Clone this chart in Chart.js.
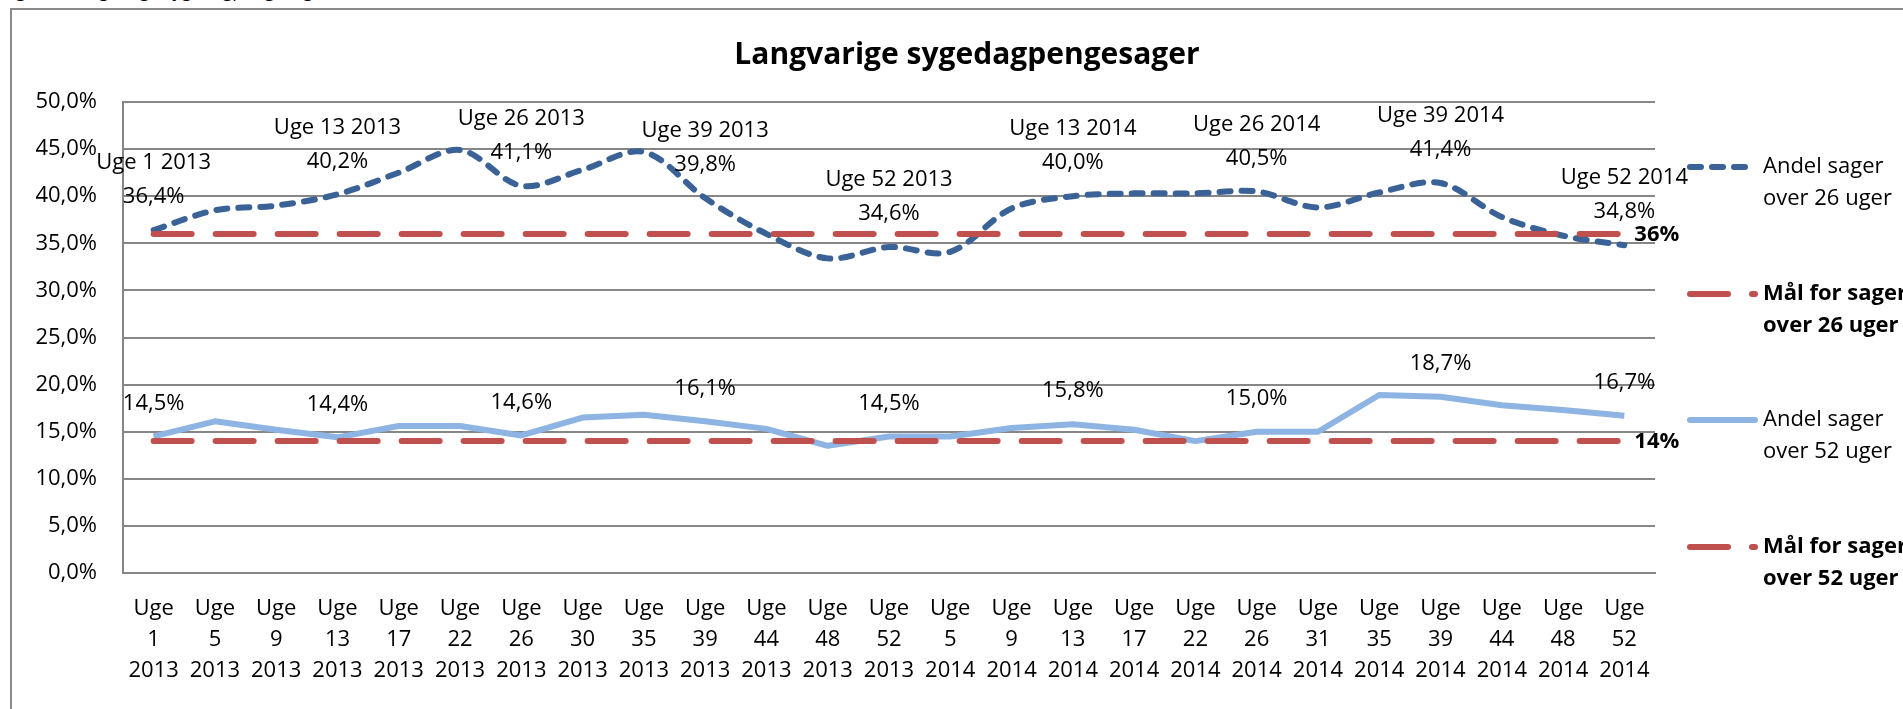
<!DOCTYPE html>
<html>
<head>
<meta charset="utf-8">
<script src="https://cdn.jsdelivr.net/npm/chart.js@4.4.1/dist/chart.umd.min.js"></script>
<style>
  html, body { margin: 0; padding: 0; overflow: hidden; background: #fff; }
  #wrap { position: relative; width: 1903px; height: 709px; overflow: hidden; }
  #caption { position: absolute; left: 2px; top: -19px; font: 18px 'Open Sans', sans-serif; line-height: 1; white-space: nowrap; color: #000; }
  #frame { position: absolute; left: 10px; top: 8px; width: 1940px; height: 740px; border: 2px solid #8a8a8a; box-sizing: border-box; }
  canvas { position: absolute; left: 0; top: 0; }
</style>
</head>
<body>
<div id="wrap">
  <div id="caption">Figur 4: Langvarige sygedagpengesager</div>
  <div id="frame"></div>
  <canvas id="chart" width="1903" height="709"></canvas>
</div>
<script>
const weeks = [1, 5, 9, 13, 17, 22, 26, 30, 35, 39, 44, 48, 52, 5, 9, 13, 17, 22, 26, 31, 35, 39, 44, 48, 52];
const years = [2013, 2013, 2013, 2013, 2013, 2013, 2013, 2013, 2013, 2013, 2013, 2013, 2013,
               2014, 2014, 2014, 2014, 2014, 2014, 2014, 2014, 2014, 2014, 2014, 2014];

const over26 = [36.4, 38.5, 39.0, 40.2, 42.5, 44.9, 41.1, 42.8, 44.7, 39.8, 36.0, 33.4, 34.6,
                34.1, 38.7, 40.0, 40.3, 40.3, 40.5, 38.8, 40.4, 41.4, 37.8, 35.8, 34.8];
const over52 = [14.5, 16.1, 15.2, 14.4, 15.6, 15.6, 14.6, 16.5, 16.8, 16.1, 15.3, 13.5, 14.5,
                14.5, 15.4, 15.8, 15.2, 14.0, 15.0, 15.0, 18.9, 18.7, 17.8, 17.3, 16.7];
const goal26 = [36, 36, 36, 36, 36, 36, 36, 36, 36, 36, 36, 36, 36,
                36, 36, 36, 36, 36, 36, 36, 36, 36, 36, 36, 36];
const goal52 = [14, 14, 14, 14, 14, 14, 14, 14, 14, 14, 14, 14, 14,
                14, 14, 14, 14, 14, 14, 14, 14, 14, 14, 14, 14];

// points that carry a data label (every third week)
const labelledPoints = [0, 3, 6, 9, 12, 15, 18, 21, 24];

const legendNames = [
  ['Andel sager', 'over 26 uger'],
  ['Mål for sager', 'over 26 uger'],
  ['Andel sager', 'over 52 uger'],
  ['Mål for sager', 'over 52 uger']
];

const FONT = "'Open Sans', 'Noto Sans', sans-serif";
const GRID = '#868686';
const pct = v => v.toFixed(1).replace('.', ',') + '%';

const labels = weeks.map((w, i) => ['Uge', String(w), String(years[i])]);

const excelPlugin = {
  id: 'excelBits',
  afterDatasetsDraw(chart) {
    const ctx = chart.ctx;
    ctx.save();
    ctx.fillStyle = '#000';
    ctx.textAlign = 'center';
    ctx.textBaseline = 'middle';
    ctx.font = `22px ${FONT}`;
    const m26 = chart.getDatasetMeta(0);
    const m52 = chart.getDatasetMeta(2);
    labelledPoints.forEach(i => {
      const p = m26.data[i];
      ctx.fillText(`Uge ${weeks[i]} ${years[i]}`, p.x, p.y - 67);
      ctx.fillText(pct(over26[i]), p.x, p.y - 33);
      const q = m52.data[i];
      ctx.fillText(pct(over52[i]), q.x, q.y - 33);
    });

    // goal value at the end of each target line
    ctx.font = `bold 22px ${FONT}`;
    ctx.textAlign = 'left';
    [1, 3].forEach(d => {
      const pts = chart.getDatasetMeta(d).data;
      const last = pts[pts.length - 1];
      const vals = chart.data.datasets[d].data;
      ctx.fillText(vals[vals.length - 1] + '%', last.x + 10, last.y + 1);
    });
    ctx.restore();
  },
  afterDraw(chart) {
    const ctx = chart.ctx;
    ctx.save();
    // title
    ctx.fillStyle = '#000';
    ctx.textAlign = 'center';
    ctx.textBaseline = 'middle';
    ctx.font = `bold 30px ${FONT}`;
    ctx.fillText('Langvarige sygedagpengesager', 967, 55);

    // legend on the right
    const tops = [167, 294, 420, 547];
    chart.data.datasets.forEach((ds, d) => {
      const y = tops[d];
      ctx.save();
      ctx.strokeStyle = ds.borderColor;
      ctx.lineWidth = ds.borderWidth;
      ctx.lineCap = 'round';
      ctx.setLineDash(ds.borderDash || []);
      ctx.beginPath();
      ctx.moveTo(1690, y);
      ctx.lineTo(1755, y);
      ctx.stroke();
      ctx.restore();
      ctx.font = (d % 2 ? 'bold ' : '') + `22px ${FONT}`;
      ctx.textAlign = 'left';
      legendNames[d].forEach((line, k) => ctx.fillText(line, 1763, y + k * 32));
    });
    ctx.restore();
  }
};

new Chart(document.getElementById('chart'), {
  type: 'line',
  data: {
    labels,
    datasets: [
      {
        label: legendNames[0].join(' '),
        data: over26,
        borderColor: '#3A6296',
        borderWidth: 6,
        borderDash: [11, 11],
        borderCapStyle: 'round',
        tension: 0.33,
        pointRadius: 0,
        order: 4
      },
      {
        label: legendNames[1].join(' '),
        data: goal26,
        borderColor: '#C0504D',
        borderWidth: 6,
        borderDash: [38, 24],
        borderCapStyle: 'round',
        pointRadius: 0,
        order: 3
      },
      {
        label: legendNames[2].join(' '),
        data: over52,
        borderColor: '#8DB4E2',
        borderWidth: 6,
        borderJoinStyle: 'round',
        pointRadius: 0,
        order: 2
      },
      {
        label: legendNames[3].join(' '),
        data: goal52,
        borderColor: '#C0504D',
        borderWidth: 6,
        borderDash: [38, 24],
        borderCapStyle: 'round',
        pointRadius: 0,
        order: 1
      }
    ]
  },
  options: {
    responsive: false,
    animation: false,
    devicePixelRatio: 1,
    layout: { padding: { top: 102, right: 248, left: 0, bottom: 0 } },
    plugins: {
      legend: { display: false },
      title: { display: false },
      tooltip: { enabled: false }
    },
    scales: {
      x: {
        offset: true,
        afterFit: s => { s.height = 136; },
        grid: { display: false, drawTicks: false },
        border: { display: true, color: GRID, width: 2 },
        ticks: {
          autoSkip: false,
          maxRotation: 0,
          padding: 20,
          color: '#000',
          font: { family: FONT, size: 22, lineHeight: 1.41 }
        }
      },
      y: {
        min: 0,
        max: 50,
        afterFit: s => { s.width = 123; },
        grid: { color: GRID, lineWidth: 2, drawTicks: false },
        border: { display: true, color: GRID, width: 2 },
        ticks: {
          stepSize: 5,
          padding: 26,
          color: '#000',
          font: { family: FONT, size: 22 },
          callback: v => pct(v)
        }
      }
    }
  },
  plugins: [excelPlugin]
});
</script>
</body>
</html>
